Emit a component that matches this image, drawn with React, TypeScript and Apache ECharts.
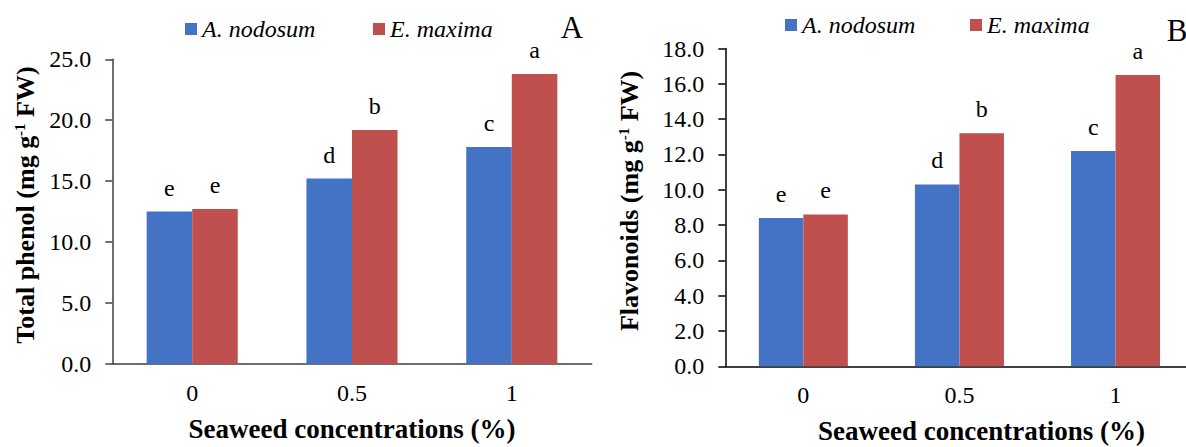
import React, { useEffect, useRef } from "react";
import * as echarts from "echarts";

const categories = ["0", "0.5", "1"];
const seriesNames = ["A. nodosum", "E. maxima"];

const phenolNodosum = [12.5, 15.2, 17.8];
const phenolMaxima = [12.7, 19.2, 23.8];
const phenolLettersNodosum = ["e", "d", "c"];
const phenolLettersMaxima = ["e", "b", "a"];

const flavNodosum = [8.4, 10.3, 12.2];
const flavMaxima = [8.6, 13.2, 16.5];
const flavLettersNodosum = ["e", "d", "c"];
const flavLettersMaxima = ["e", "b", "a"];

const phenolAxis = { min: 0, max: 25, interval: 5 };
const flavAxis = { min: 0, max: 18, interval: 2 };

const xTitle = "Seaweed concentrations (%)";
const phenolTitle = "Total phenol (mg g{sup|-1} FW)";
const flavTitle = "Flavonoids (mg g{sup|-1} FW)";
const panelLetters = ["A", "B"];

const FONT = "Liberation Serif, Times New Roman, serif";
const BLUE = "#4472C4";
const RED = "#C0504D";

export default function App() {
  const ref = useRef<HTMLDivElement>(null);

  useEffect(() => {
    if (!ref.current) return;
    const chart = echarts.init(ref.current, undefined, { renderer: "svg" });

    const makeX = (gridIndex: number, color: string, nameGap: number, padLeft: number) => ({
      type: "category",
      gridIndex,
      data: categories,
      axisTick: { show: false },
      axisLine: { show: true, lineStyle: { color, width: 1.5 } },
      axisLabel: { fontSize: 24, color: "#000", fontFamily: FONT, margin: 17 },
      name: xTitle,
      nameLocation: "middle",
      nameGap,
      nameTextStyle: {
        fontSize: 27,
        fontWeight: "bold",
        color: "#000",
        fontFamily: FONT,
        padding: [0, 0, 0, padLeft],
      },
    });

    const makeY = (gridIndex: number, ax: any, color: string, name: string, nameGap: number) => ({
      type: "value",
      gridIndex,
      min: ax.min,
      max: ax.max,
      interval: ax.interval,
      splitLine: { show: false },
      axisLine: { show: true, lineStyle: { color, width: 1.5 } },
      axisTick: { show: true, length: 7, lineStyle: { color, width: 1.5 } },
      axisLabel: {
        fontSize: 24,
        color: "#000",
        fontFamily: FONT,
        margin: 21,
        formatter: (v: number) => v.toFixed(1),
      },
      name,
      nameLocation: "middle",
      nameRotate: 90,
      nameGap,
      nameTextStyle: {
        fontSize: 26,
        fontWeight: "bold",
        color: "#000",
        fontFamily: FONT,
        padding: [0, 0, 0, 13],
        rich: {
          sup: {
            fontSize: 15,
            fontWeight: "bold",
            color: "#000",
            fontFamily: FONT,
            verticalAlign: "top",
          },
        },
      },
    });

    const makeBar = (
      name: string,
      idx: number,
      data: number[],
      letters: string[],
      color: string
    ) => ({
      type: "bar",
      name,
      xAxisIndex: idx,
      yAxisIndex: idx,
      data,
      barGap: "0%",
      barCategoryGap: "43%",
      itemStyle: { color },
      label: {
        show: true,
        position: "top",
        distance: 12,
        fontSize: 24,
        color: "#000",
        fontFamily: FONT,
        formatter: (p: any) => letters[p.dataIndex],
      },
    });

    const makeLegend = (left: number, top: number, name: string) => ({
      left,
      top,
      data: [name],
      icon: "rect",
      itemWidth: 12,
      itemHeight: 12,
      itemGap: 0,
      itemTextGap: 5,
      padding: 0,
      selectedMode: false,
      textStyle: { fontSize: 24, fontStyle: "italic", color: "#000", fontFamily: FONT },
    });

    chart.setOption({
      animation: false,
      backgroundColor: "#fff",
      grid: [
        { left: 112.3, right: 594.3, top: 59.3, bottom: 83.3, outerBoundsMode: "none", containLabel: false },
        { left: 725.3, right: -7.6, top: 48.5, bottom: 80.7, outerBoundsMode: "none", containLabel: false },
      ],
      legend: [
        makeLegend(185, 17, seriesNames[0]),
        makeLegend(373, 17, seriesNames[1]),
        makeLegend(785, 13, seriesNames[0]),
        makeLegend(970, 13, seriesNames[1]),
      ],
      xAxis: [makeX(0, "#404040", 52, 0), makeX(1, "#000", 51, 44)],
      yAxis: [
        makeY(0, phenolAxis, "#404040", phenolTitle, 73.6),
        makeY(1, flavAxis, "#000", flavTitle, 83),
      ],
      series: [
        makeBar(seriesNames[0], 0, phenolNodosum, phenolLettersNodosum, BLUE),
        makeBar(seriesNames[1], 0, phenolMaxima, phenolLettersMaxima, RED),
        makeBar(seriesNames[0], 1, flavNodosum, flavLettersNodosum, BLUE),
        makeBar(seriesNames[1], 1, flavMaxima, flavLettersMaxima, RED),
      ],
      graphic: [
        {
          type: "text",
          x: 572,
          y: 27,
          style: {
            text: panelLetters[0],
            fontSize: 31,
            fontFamily: FONT,
            fill: "#000",
            align: "center",
            verticalAlign: "middle",
          },
        },
        {
          type: "text",
          x: 1177,
          y: 30,
          style: {
            text: panelLetters[1],
            fontSize: 31,
            fontFamily: FONT,
            fill: "#000",
            align: "center",
            verticalAlign: "middle",
          },
        },
      ],
    });

    return () => chart.dispose();
  }, []);

  return (
    <div
      ref={ref}
      style={{ position: "absolute", left: 0, top: 0, width: 1186, height: 447 }}
    />
  );
}
